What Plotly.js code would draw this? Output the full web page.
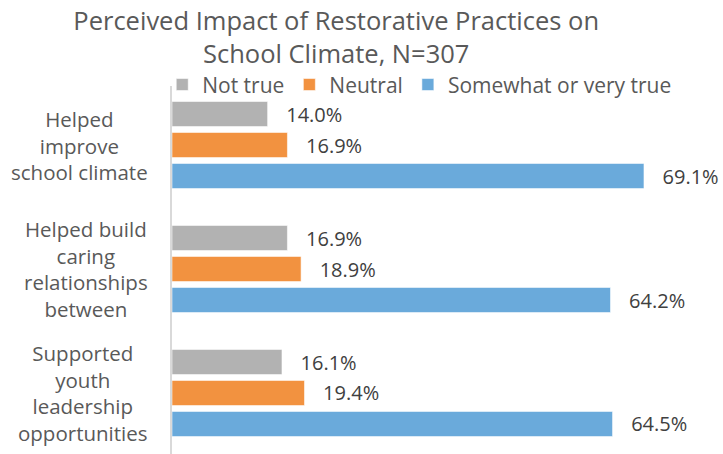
<!DOCTYPE html>
<html>
<head>
<meta charset="utf-8">
<script src="https://cdn.plot.ly/plotly-3.0.1.min.js"></script>
<style>html,body{margin:0;padding:0;background:#fff;}#chart{width:723px;height:454px;}</style>
</head>
<body>
<div id="chart"></div>
<script>
var categories = ["Helped<br>improve<br>school climate", "Helped build<br>caring<br>relationships<br>between", "Supported<br>youth<br>leadership<br>opportunities"];
var seriesNames = ["Not true", "Neutral", "Somewhat or very true"];
var notTrue = [14.0, 16.9, 16.1];
var neutral = [16.9, 18.9, 19.4];
var somewhatTrue = [69.1, 64.2, 64.5];
var seriesValues = [notTrue, neutral, somewhatTrue];
var seriesColors = ["#B2B2B2", "#F29240", "#6AAADB"];
var titleText = "Perceived Impact of Restorative Practices on<br>School Climate, N=307";

var FONT = "'Open Sans', sans-serif";

var traces = seriesValues.map(function (vals, i) {
  return {
    type: "bar",
    orientation: "h",
    name: seriesNames[i],
    x: vals,
    y: categories,
    marker: { color: seriesColors[i], line: { color: "rgba(255,255,255,0.55)", width: 1 } },
    texttemplate: "\u00A0\u00A0\u00A0%{x:.1f}%",
    textposition: "outside",
    constraintext: "none",
    cliponaxis: false,
    textfont: { family: FONT, size: 20, color: "#404040" },
    hoverinfo: "skip"
  };
});

var annotations = categories.map(function (c) {
  return {
    xref: "paper", yref: "y",
    x: 0, y: c,
    xanchor: "right", yanchor: "middle",
    xshift: -22,
    align: "center",
    text: c,
    showarrow: false,
    font: { family: FONT, size: 20.5, color: "#595959" }
  };
});

var layout = {
  width: 723,
  height: 454,
  margin: { l: 172, r: 8, t: 86, b: 0, pad: 0, autoexpand: false },
  paper_bgcolor: "#ffffff",
  plot_bgcolor: "#ffffff",
  font: { family: FONT, color: "#595959" },
  title: {
    text: titleText,
    font: { family: FONT, size: 25.5, color: "#595959" },
    x: 0.465, xanchor: "center", xref: "container",
    y: 0.935, yanchor: "top", yref: "container"
  },
  barmode: "group",
  bargap: 0.25,
  bargroupgap: 0.19,
  showlegend: true,
  legend: {
    orientation: "h",
    x: -0.018, xanchor: "left",
    y: 1.003, yanchor: "middle",
    font: { family: FONT, size: 21, color: "#595959" },
    traceorder: "normal",
    bgcolor: "rgba(0,0,0,0)"
  },
  xaxis: {
    range: [0, 79.5],
    showgrid: false,
    zeroline: false,
    showticklabels: false,
    showline: false,
    ticks: "",
    fixedrange: true
  },
  yaxis: {
    type: "category",
    categoryorder: "array",
    categoryarray: categories,
    range: [2.492, -0.476],
    showticklabels: false,
    showgrid: false,
    zeroline: false,
    showline: true,
    linecolor: "#D9D9D9",
    linewidth: 2,
    ticks: "",
    fixedrange: true
  },
  annotations: annotations
};

Plotly.newPlot("chart", traces, layout, { displayModeBar: false, staticPlot: true });
</script>
</body>
</html>
